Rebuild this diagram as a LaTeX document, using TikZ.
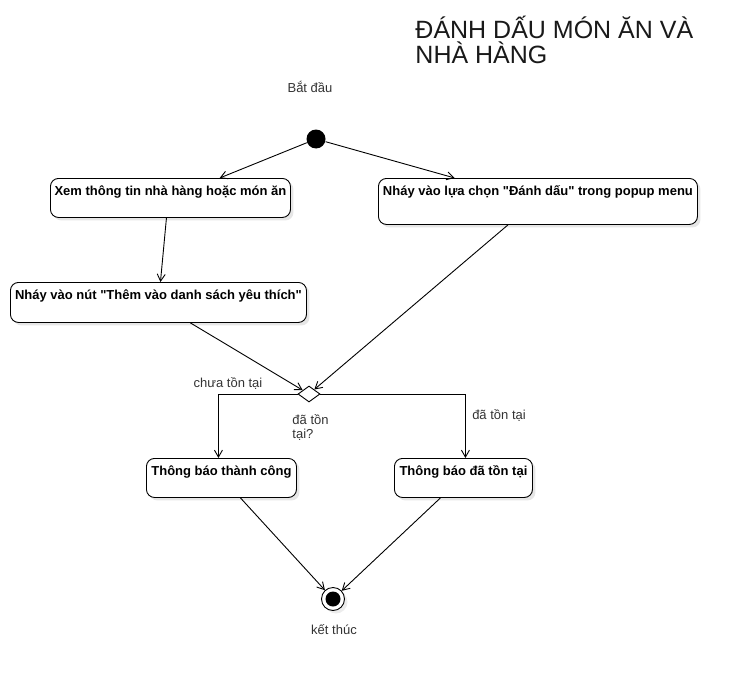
\documentclass[tikz,border=0pt]{standalone}
\usepackage{fontspec}
\setmainfont{Liberation Sans}
\usetikzlibrary{arrows.meta,shapes.geometric,shadows}
\begin{document}
\begin{tikzpicture}[x=1pt,y=-1pt,>={Straight Barb[length=7pt,width=8pt]},line width=0.9pt,font=\fontsize{13}{15}\selectfont]
  \tikzset{box/.style={draw, rounded corners=8pt, anchor=north west, fill=white, inner xsep=3pt, inner ysep=0pt, text height=17pt, font=\bfseries\fontsize{13}{15}\selectfont, drop shadow={shadow xshift=3pt, shadow yshift=-3pt, opacity=0.2}},
    lbl/.style={inner sep=0pt, text=black!80}}
  \useasboundingbox (0,0) rectangle (754,682);
  \node[anchor=north west, align=left, inner sep=0pt, text=black!90, font=\fontsize{25}{25}\selectfont] (title) at (415,16) {ĐÁNH DẤU MÓN ĂN VÀ\\NHÀ HÀNG};
  \node[lbl] (begin) at (310,87) {Bắt đầu};
  \node[circle, fill=black, minimum size=19pt, inner sep=0pt] (start) at (316,139) {};
  \node[box, minimum width=240pt, text depth=22pt] (view) at (50,178) {Xem thông tin nhà hàng hoặc món ăn};
  \node[box, minimum width=319pt, text depth=29pt] (pick) at (378,178) {Nháy vào lựa chọn \textquotedbl Đánh dấu\textquotedbl{} trong popup menu};
  \node[box, minimum width=296pt, text depth=23pt] (tap) at (10,282) {Nháy vào nút \textquotedbl Thêm vào danh sách yêu thích\textquotedbl};
  \node[diamond, draw, fill=white, minimum width=22pt, minimum height=16pt, inner sep=0pt] (check) at (309,394) {};
  \node[lbl] (notyet) at (228,383) {chưa tồn tại};
  \node[lbl] (yes) at (499,415) {đã tồn tại};
  \node[lbl, anchor=north west, align=left, font=\fontsize{13}{14}\selectfont] (ask) at (292,414) {đã tồn\\tại?};
  \node[box, minimum width=150pt, text depth=22pt] (ok) at (146,458) {Thông báo thành công};
  \node[box, minimum width=138pt, text depth=22pt] (exist) at (394,458) {Thông báo đã tồn tại};
  \node[circle, draw, fill=white, minimum size=23pt, inner sep=0pt, drop shadow={shadow xshift=3pt, shadow yshift=-3pt, opacity=0.15}] (stop) at (333,599) {};
  \node[circle, fill=black, minimum size=15pt, inner sep=0pt] (stopdot) at (stop) {};
  \node[lbl] (end) at (334,630) {kết thúc};
  \draw[->] (start) -- (view);
  \draw[->] (start) -- (pick);
  \draw[->] ([xshift=-4pt]view.south) -- ([xshift=2pt]tap.north);
  \draw[->] ([xshift=32pt]tap.south) -- (check);
  \draw[->] ([xshift=-30pt]pick.south) -- (check);
  \draw[->] (check.west) -| ([xshift=-3pt]ok.north);
  \draw[->] (check.east) -| ([xshift=2pt]exist.north);
  \draw[->] ([xshift=19pt]ok.south) -- (stop);
  \draw[->] ([xshift=-23pt]exist.south) -- (stop);
\end{tikzpicture}
\end{document}
